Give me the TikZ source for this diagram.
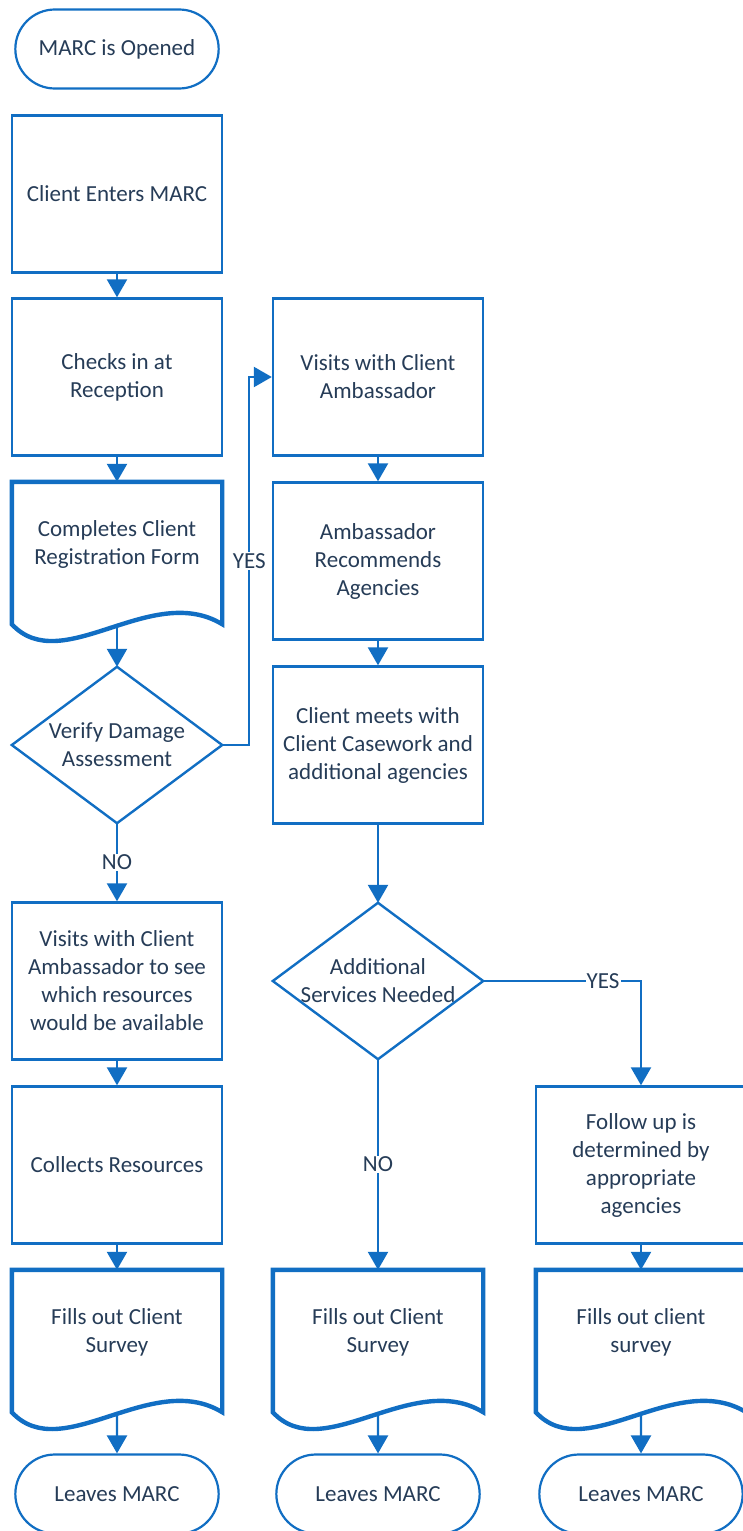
\documentclass[tikz,border=0pt]{standalone}
\usepackage{fontspec}
\setmainfont{Carlito}
\usetikzlibrary{arrows.meta, shapes.misc}
\definecolor{marcblue}{RGB}{17,110,195}
\definecolor{marctext}{RGB}{38,60,87}
\tikzset{
  flow/.style={draw=marcblue, line width=2.4pt, -{Triangle[width=20pt, length=18pt]}},
  box/.style={draw=marcblue, line width=2.4pt, rectangle, minimum width=210pt, minimum height=157pt, align=center, text=marctext, inner sep=0pt},
  terminal/.style={draw=marcblue, line width=2.2pt, rounded rectangle, minimum width=210pt, minimum height=79pt, text=marctext},
  docbox/.style={rectangle, minimum width=210pt, minimum height=124pt, align=center, text=marctext, inner sep=0pt},
  decision/.style={rectangle, minimum width=210pt, minimum height=156pt, align=center, text=marctext, inner sep=0pt},
  answer/.style={fill=white, text=marctext, inner sep=1pt}
}
\newcommand{\docframe}[1]{%
  \draw[draw=marcblue, line width=4.4pt, line join=miter]
    (#1.north west) -- (#1.north east) -- ([yshift=-18pt]#1.south east)
    .. controls +(-71,-43) and +(50,54) .. ([yshift=-18pt]#1.south west) -- cycle;}
\newcommand{\decframe}[1]{%
  \draw[draw=marcblue, line width=2.4pt] (#1.north) -- (#1.east) -- (#1.south) -- (#1.west) -- cycle;}

\begin{document}
\begin{tikzpicture}[x=1pt, y=-1pt, font=\fontsize{23}{28}\selectfont]
\useasboundingbox (0,0) rectangle (743,1531);
% first column
\node[terminal] (open) at (117,49) {MARC is Opened};
\node[box] (enter) at (117,194) {Client Enters MARC};
\node[box] (checkin) at (117,377) {Checks in at\\Reception};
\node[docbox] (regform) at (117,544) {Completes Client\\Registration Form};
\node[decision] (verify) at (117,745) {Verify Damage\\Assessment};
\node[box] (seeres) at (117,981) {Visits with Client\\Ambassador to see\\which resources\\would be available};
\node[box] (collect) at (117,1165) {Collects Resources};
\node[docbox] (survey1) at (117,1332) {Fills out Client\\Survey};
\node[terminal] (leave1) at (117,1494) {Leaves MARC};
% second column
\node[box] (ambvisit) at (378,377) {Visits with Client\\Ambassador};
\node[box] (recommend) at (378,561) {Ambassador\\Recommends\\Agencies};
\node[box] (casework) at (378,745) {Client meets with\\Client Casework and\\additional agencies};
\node[decision] (extra) at (378,981) {Additional\\Services Needed};
\node[docbox] (survey2) at (378,1332) {Fills out Client\\Survey};
\node[terminal] (leave2) at (378,1494) {Leaves MARC};
% third column
\node[box] (followup) at (641,1165) {Follow up is\\determined by\\appropriate\\agencies};
\node[docbox] (survey3) at (641,1332) {Fills out client\\survey};
\node[terminal] (leave3) at (641,1494) {Leaves MARC};
% outlines
\docframe{regform}
\docframe{survey1}
\docframe{survey2}
\docframe{survey3}
\decframe{verify}
\decframe{extra}
% connectors
\draw[flow] (enter) -- (checkin);
\draw[flow] (checkin) -- (regform);
\draw[flow] ([yshift=-18pt]regform.south) -- (verify.north);
\draw[flow] (verify.south) -- node[answer] {NO} (seeres);
\draw[flow] (verify.east) -- ++(27,0) |- node[answer, pos=0.25] {YES} (ambvisit.west);
\draw[flow] (seeres) -- (collect);
\draw[flow] (collect) -- (survey1);
\draw[flow] ([yshift=-18pt]survey1.south) -- (leave1);
\draw[flow] (ambvisit) -- (recommend);
\draw[flow] (recommend) -- (casework);
\draw[flow] (casework) -- (extra.north);
\draw[flow] (extra.south) -- node[answer] {NO} (survey2);
\draw[flow] (extra.east) -| node[answer, pos=0.38] {YES} (followup.north);
\draw[flow] ([yshift=-18pt]survey2.south) -- (leave2);
\draw[flow] (followup) -- (survey3);
\draw[flow] ([yshift=-18pt]survey3.south) -- (leave3);
\end{tikzpicture}
\end{document}
